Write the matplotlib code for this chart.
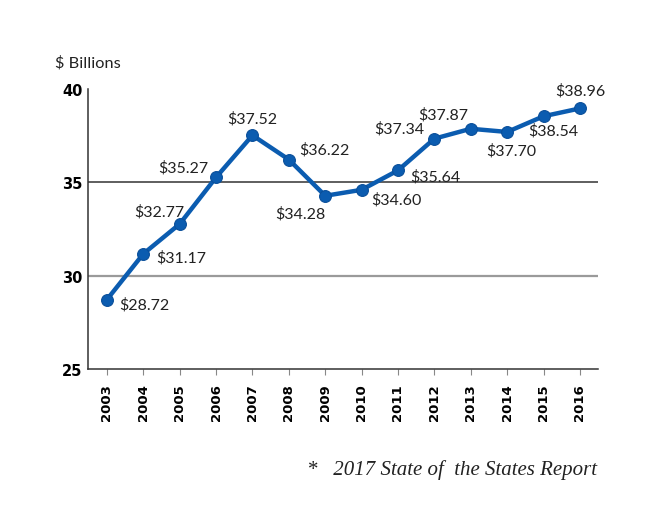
import matplotlib
matplotlib.use("Agg")
import matplotlib.pyplot as plt

# data
years = [2003, 2004, 2005, 2006, 2007, 2008, 2009, 2010, 2011, 2012, 2013, 2014, 2015, 2016]
spend = [28.72, 31.17, 32.77, 35.27, 37.52, 36.22, 34.28, 34.60, 35.64, 37.34, 37.87, 37.70, 38.54, 38.96]
yticks = [25, 30, 35, 40]
unit_label = "$ Billions"
source = "*   2017 State of  the States Report"

# where each value label sits relative to its point (pixels, ha)
label_pos = [(12, -5, "left"), (13, -3, "left"), (5, 13, "right"), (-8, 10, "right"),
             (0, 17, "center"), (10, 10, "left"), (0, -17, "right"), (10, -9, "left"),
             (12, -6, "left"), (-10, 10, "right"), (-2, 15, "right"), (4, -18, "center"),
             (10, -14, "center"), (0, 18, "center")]

plt.rcParams['font.family'] = ['Lato', 'DejaVu Sans']
blue = "#0b5cb0"

fig = plt.figure(figsize=(6.72, 5.10), dpi=100)
ax = fig.add_axes([0.131, 0.2745, 0.759, 0.549])

ax.axhline(35, color="#333333", lw=1.1, zorder=1)
ax.axhline(30, color="#9a9a9a", lw=1.6, zorder=1)

ax.plot(years, spend, color=blue, lw=3.2, marker="o", ms=8.5,
        mfc=blue, mec="#0a4f9a", mew=0.8, zorder=3)

for yr, v, (dx, dy, ha) in zip(years, spend, label_pos):
    ax.annotate("$%.2f" % v, (yr, v), xytext=(dx, dy), textcoords="offset pixels",
                ha=ha, va="center", fontsize=11.5, color="#222222")

ax.set_xlim(2002.48, 2016.5)
ax.set_ylim(25, 40)
ax.set_yticks(yticks)
ax.set_xticks(years)
ax.set_xticklabels([str(y) for y in years], rotation=90, fontweight="bold", fontsize=9.5,
                   family="DejaVu Sans")
ax.set_yticklabels([str(t) for t in yticks], fontweight="bold", fontsize=10.5,
                   family="DejaVu Sans")
ax.tick_params(axis="y", length=0, pad=4)
ax.tick_params(axis="x", length=4, color="#888888", pad=6)

for s in ["top", "right"]:
    ax.spines[s].set_visible(False)
ax.spines["left"].set_color("#333333")
ax.spines["bottom"].set_color("#333333")
ax.spines["left"].set_linewidth(1.1)
ax.spines["bottom"].set_linewidth(1.1)

fig.text(55 / 672, 1 - 63 / 510, unit_label, fontsize=11.8, va="center", ha="left", color="#222222")
fig.text(597 / 672, 1 - 470 / 510, source, fontsize=15, va="center", ha="right",
         family="Liberation Serif", style="italic", color="#222222")

fig.savefig("out.png", dpi=100)
